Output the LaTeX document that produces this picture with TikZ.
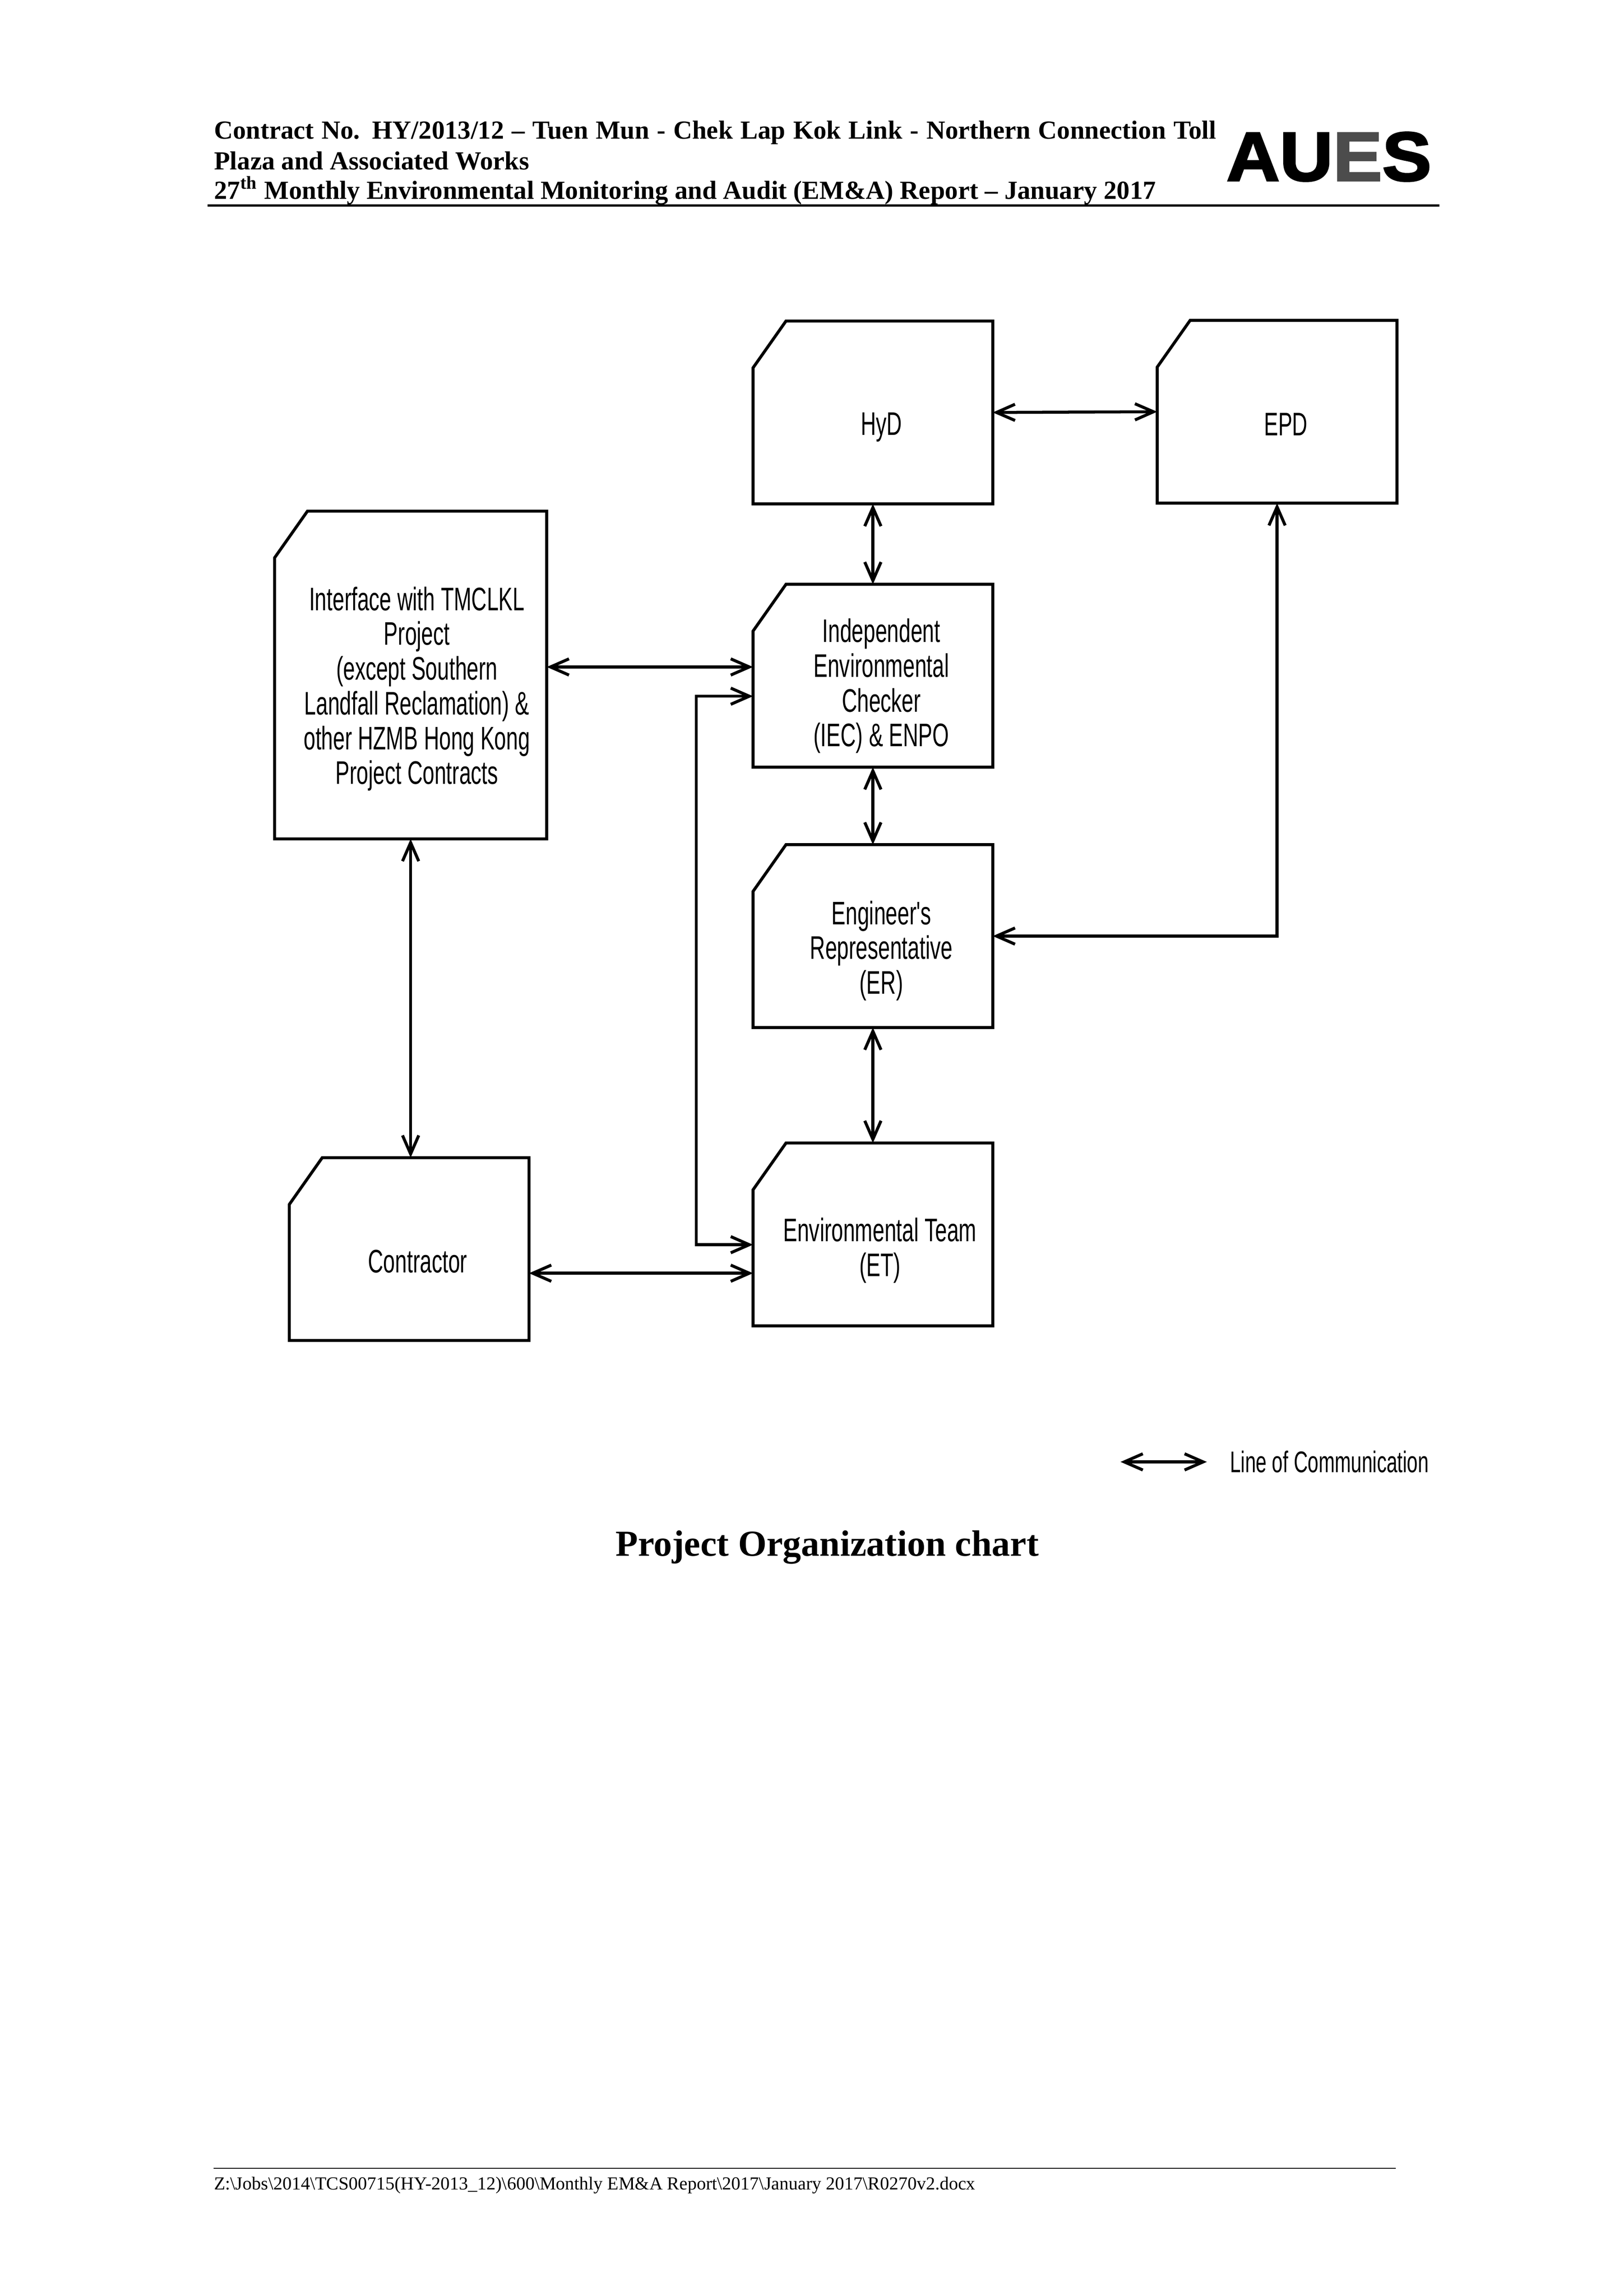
\documentclass[tikz,border=0pt]{standalone}
\usepackage{fontspec}
\setmainfont{Liberation Serif}
\newfontfamily\boxfont[FakeStretch=0.65]{Liberation Sans}
\newfontfamily\logofont[FakeStretch=1.065, BoldFeatures={FakeBold=2.5}]{Liberation Sans}
\usetikzlibrary{arrows.meta, calc}
\tikzset{
    >={Straight Barb[length=2.4mm, width=2.1mm]}, % open arrow heads
    orgbox/.style={
        inner sep=0pt, outer sep=0pt, minimum width=31mm, minimum height=23.65mm,
        append after command={\pgfextra{\let\boxname\tikzlastnode
            \draw[line width=1.1pt] ($(\boxname.north west)+(4.26mm,0)$) -- (\boxname.north east)
                -- (\boxname.south east) -- (\boxname.south west)
                -- ($(\boxname.north west)+(0,-6.05mm)$) -- cycle;}}},
    orgtext/.style={align=center, inner sep=0pt, font=\boxfont\fontsize{12}{12.8}\selectfont},
    commline/.style={<->, line width=1.1pt},
    headtext/.style={anchor=base west, inner sep=0pt, font=\bfseries\fontsize{9.6}{11}\selectfont},
    rulehead/.style={line width=0.7pt},
}
\begin{document}
\begin{tikzpicture}[x=0.18919mm, y=-0.18919mm]
\useasboundingbox (0,0) rectangle (1110,1569.8);

% Header
\node[headtext] (head1) at (146,95) {\makebox[129.6mm][s]{Contract No. HY/2013/12 -- Tuen Mun - Chek Lap Kok Link - Northern Connection Toll}};
\node[headtext] (head2) at (146,116) {Plaza and Associated Works};
\node[headtext] (head3) at (146,136) {27\textsuperscript{th} Monthly Environmental Monitoring and Audit (EM\&A) Report -- January 2017};
\node[anchor=base west, inner sep=0pt, font=\logofont\bfseries\fontsize{25.5}{26}\selectfont] (logo) at (838,123.5)
    {AU\textcolor{black!70}{E}S};
\coordinate (headl) at (142,140.5);
\coordinate (headr) at (984,140.5);
\draw[rulehead] (headl) -- (headr);

% Boxes
\node[orgbox] (hyd) at (596.7,282) {};
\node[orgbox] (epd) at (873,281.5) {};
\node[orgbox] (iec) at (596.7,462) {};
\node[orgbox] (er) at (596.7,640) {};
\node[orgbox] (et) at (596.7,844) {};
\node[orgbox] (contractor) at (279.7,854) {};
\node[orgbox, minimum width=35.2mm, minimum height=42.4mm] (iface) at (280.7,461.5) {};

% Box texts
\node[orgtext] (hydtext) at (602.5,292) {HyD};
\node[orgtext] (epdtext) at (879,290) {EPD};
\node[orgtext] (iectext) at (602.5,469) {Independent\\Environmental\\Checker\\(IEC) \& ENPO};
\node[orgtext] (ertext) at (602.5,650) {Engineer's\\Representative\\(ER)};
\node[orgtext] (ettext) at (601.5,855) {Environmental Team\\(ET)};
\node[orgtext] (contractortext) at (285.5,862.5) {Contractor};
\node[orgtext] (ifacetext) at (285,471) {Interface with TMCLKL\\Project\\(except Southern\\Landfall Reclamation) \&\\other HZMB Hong Kong\\Project Contracts};

% Communication lines
\draw[commline] (hyd.east) -- (epd.west);
\draw[commline] (hyd.south) -- (iec.north);
\draw[commline] (iec.south) -- (er.north);
\draw[commline] (er.south) -- (et.north);
\draw[commline] (epd.south) -- (er.east -| epd.south) -- (er.east);
\draw[commline] (iface.east |- 0,456) -- (iec.west |- 0,456);
\draw[commline] (iface.south) -- (iface.south |- contractor.north);
\draw[commline] (contractor.east |- 0,870.5) -- (et.west |- 0,870.5);
\draw[commline] (iec.west |- 0,476) -- (476,476) -- (476,851) -- (et.west |- 0,851);

% Legend
\coordinate (legl) at (766,999.5);
\coordinate (legr) at (825,999.5);
\draw[commline] (legl) -- (legr);
\node[anchor=west, inner sep=0pt, font=\boxfont\fontsize{11}{12}\selectfont] (legtext) at (840.5,999.5) {Line of Communication};

% Title and footer
\node[inner sep=0pt, font=\bfseries\fontsize{13.5}{15}\selectfont] (title) at (565.5,1058) {Project Organization chart};
\coordinate (footl) at (146,1482.5);
\coordinate (footr) at (954,1482.5);
\draw[line width=0.5pt] (footl) -- (footr);
\node[anchor=base west, inner sep=0pt, font=\fontsize{6.76}{8}\selectfont] (foot) at (146,1497) {Z:\textbackslash Jobs\textbackslash 2014\textbackslash TCS00715(HY-2013\_12)\textbackslash 600\textbackslash Monthly EM\&A Report\textbackslash 2017\textbackslash January 2017\textbackslash R0270v2.docx};
\end{tikzpicture}
\end{document}
